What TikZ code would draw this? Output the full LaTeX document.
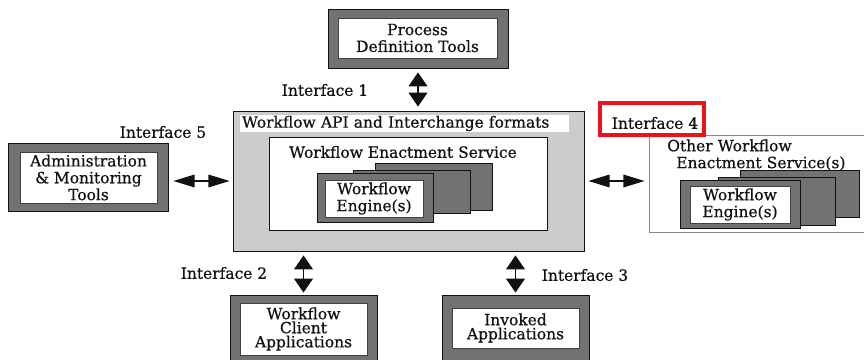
\documentclass[tikz,border=0pt]{standalone}
\usepackage{fontspec}
\setmainfont{DejaVu Serif}[FakeBold=0.6]
\usepackage{tikz}
\usetikzlibrary{arrows.meta,positioning,calc}
\definecolor{ink}{HTML}{111111}
\definecolor{cframe}{HTML}{727272}
\definecolor{cpanel}{HTML}{CCCCCC}
\definecolor{cedge}{HTML}{8A8A8A}
\definecolor{cred}{HTML}{E8141B}
\newlength{\px}\setlength{\px}{0.025cm}
\newcommand{\lbl}{\fontsize{11}{12}\selectfont}
\tikzset{
  every node/.style={text=ink},
  % dark grey frame round a white window; sizes are given per node
  frm/.style={draw=ink, fill=cframe, line width=0.6pt, inner sep=0pt},
  win/.style={draw=ink!80, fill=white, line width=0.4pt, inner sep=0pt, align=center, font=\lbl},
  lbl/.style={font=\lbl, inner sep=0pt, align=center},
  varr/.style={{Triangle[length=10pt,width=13.5pt]}-{Triangle[length=10pt,width=13.5pt]}, line width=0.8pt, draw=ink},
  harr/.style={{Triangle[length=15pt,width=9pt]}-{Triangle[length=15pt,width=9pt]}, line width=0.8pt, draw=ink},
}
\begin{document}
\begin{tikzpicture}[x=0.025cm, y=-0.025cm]
  \useasboundingbox[fill=white] (0,0) rectangle (864,360);

  % ---- top: process definition ----
  \node[frm, minimum width=180\px, minimum height=59\px] (pdt) at (418,38.5) {};
  \node[win, minimum width=159\px, minimum height=40\px] (pdtw) at (417.5,38) {Process\\Definition Tools};

  % ---- centre: API box with the enactment service ----
  \node[draw=ink, fill=cpanel, line width=0.6pt, minimum width=351\px, minimum height=140\px] (api) at (408.5,181) {};
  \node[lbl, fill=white, minimum width=329\px, minimum height=17\px, text width=325\px, align=left] (apit) at (404.5,123.5)
        {Workflow API and Interchange formats};
  \node[draw=ink, fill=white, line width=0.5pt, minimum width=278\px, minimum height=93\px] (ens) at (408,183.5) {};
  \node[lbl] (enst) at (403,152) {Workflow Enactment Service};
  \node[frm, minimum width=117\px, minimum height=47\px] (engA3) at (433.5,186.5) {};
  \node[frm, minimum width=117\px, minimum height=43\px] (engA2) at (411.5,191.5) {};
  \node[frm, minimum width=116\px, minimum height=49\px] (engA1) at (375,197.5) {};
  \node[win, minimum width=98\px, minimum height=37\px] (engA) at (374,198.5) {Workflow\\Engine(s)};

  % ---- left: administration ----
  \node[frm, minimum width=160\px, minimum height=68\px] (adm) at (88,177) {};
  \node[win, minimum width=137\px, minimum height=51\px, font=\fontsize{11}{12}\selectfont] (admw) at (88.5,177.5)
        {Administration\\\& Monitoring\\Tools};

  % ---- right: other enactment services ----
  \node[draw=cedge, fill=white, line width=0.6pt, minimum width=231\px, minimum height=97\px] (oth) at (764.5,183.5) {};
  \node[lbl, text width=190\px, align=left, anchor=west] (otht) at (667,155)
        {Other Workflow\\\hspace*{9\px}Enactment Service(s)};
  \node[frm, minimum width=119\px, minimum height=47\px] (engB3) at (799.5,193.5) {};
  \node[frm, minimum width=117\px, minimum height=48\px] (engB2) at (776.5,201) {};
  \node[frm, minimum width=120\px, minimum height=48\px] (engB1) at (740,204) {};
  \node[win, minimum width=100\px, minimum height=37\px] (engB) at (740,204.5) {Workflow\\Engine(s)};

  % ---- bottom: clients and invoked applications ----
  \node[frm, minimum width=147\px, minimum height=70\px] (cli) at (303.5,330) {};
  \node[win, minimum width=127\px, minimum height=52\px, font=\fontsize{11}{10}\selectfont] (cliw) at (303.5,329)
        {Workflow\\Client\\Applications};
  \node[frm, minimum width=147\px, minimum height=70\px] (inv) at (515.5,330) {};
  \node[win, minimum width=127\px, minimum height=40\px, font=\fontsize{11}{10}\selectfont] (invw) at (515.5,328)
        {Invoked\\Applications};

  % ---- interfaces ----
  \node[lbl] (if1) at (325,90)  {Interface 1};
  \node[lbl] (if5) at (163,132) {Interface 5};
  \node[lbl] (if2) at (224,273) {Interface 2};
  \node[lbl] (if3) at (585,275) {Interface 3};
  \node[draw=cred, line width=2.2pt, minimum width=104\px, minimum height=32\px] (if4box) at (652,119) {};
  \node[lbl] (if4) at (655,123) {Interface 4};

  \draw[varr, shorten <=4\px, shorten >=4\px] (pdt.south) -- (pdt.south |- api.north);
  \draw[varr, shorten <=4\px, shorten >=2\px] (cli.north |- api.south) -- (cli.north);
  \draw[varr, shorten <=4\px, shorten >=2\px] (inv.north |- api.south) -- (inv.north);
  \draw[harr, shorten <=5\px, shorten >=3\px] ([yshift=-4\px]adm.east) -- ([yshift=-4\px]adm.east -| api.west);
  \draw[harr, shorten <=4\px, shorten >=4\px] (api.east) -- (api.east -| oth.west);
\end{tikzpicture}
\end{document}
